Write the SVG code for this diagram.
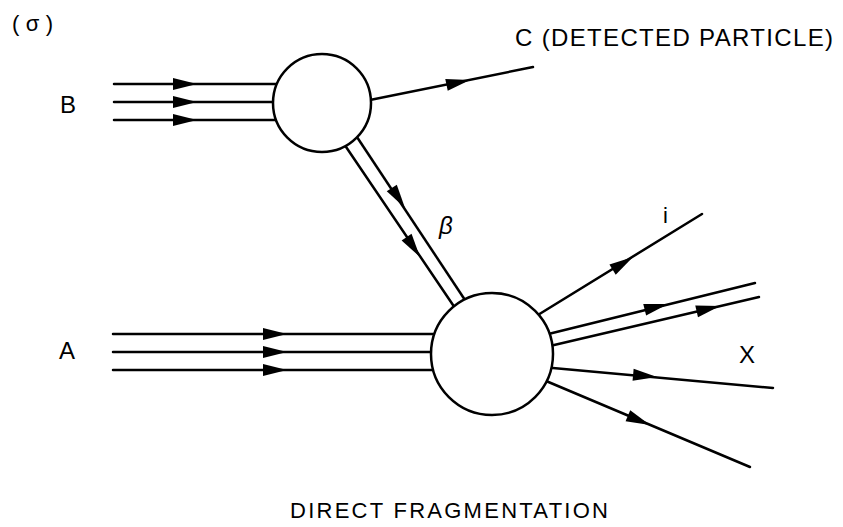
<svg xmlns="http://www.w3.org/2000/svg" xmlns:xlink="http://www.w3.org/1999/xlink" width="843" height="527" viewBox="0 0 843 527">
<style>
.ln{stroke:#000;stroke-width:2.5;fill:none;stroke-linecap:round}
.nd{stroke:#000;stroke-width:2.5;fill:#fff}
.t{font-family:"Liberation Sans","DejaVu Sans",sans-serif;fill:#000}
</style>
<defs>
<path id="ah" d="M0,0 L-24,-6 L-24,6 Z" fill="#000"/>
</defs>
<rect width="843" height="527" fill="#fff"/>
<g id="connectors">
<line class="ln" x1="114" y1="84" x2="300" y2="84"/>
<line class="ln" x1="114" y1="102" x2="300" y2="102"/>
<line class="ln" x1="114" y1="120" x2="300" y2="120"/>
<use xlink:href="#ah" transform="translate(197,84)"/>
<use xlink:href="#ah" transform="translate(197,102)"/>
<use xlink:href="#ah" transform="translate(197,120)"/>
<line class="ln" x1="113" y1="334" x2="460" y2="334"/>
<line class="ln" x1="113" y1="352" x2="460" y2="352"/>
<line class="ln" x1="113" y1="370" x2="460" y2="370"/>
<use xlink:href="#ah" transform="translate(287,334)"/>
<use xlink:href="#ah" transform="translate(287,352)"/>
<use xlink:href="#ah" transform="translate(287,370)"/>
<line class="ln" x1="360" y1="102" x2="533" y2="67"/>
<use xlink:href="#ah" transform="translate(470,80) rotate(-11.85)"/>
<line class="ln" x1="340" y1="138" x2="453" y2="305"/>
<line class="ln" x1="351" y1="128" x2="465" y2="300"/>
<use xlink:href="#ah" transform="translate(405,208) rotate(56.6)"/>
<use xlink:href="#ah" transform="translate(420,257) rotate(56)"/>
<line class="ln" x1="520" y1="326" x2="702" y2="214"/>
<use xlink:href="#ah" transform="translate(633,257) rotate(-31.7)"/>
<line class="ln" x1="520" y1="341" x2="755" y2="283"/>
<use xlink:href="#ah" transform="translate(668,304) rotate(-13.8)"/>
<line class="ln" x1="520" y1="353" x2="759" y2="297"/>
<use xlink:href="#ah" transform="translate(720,306) rotate(-13.1)"/>
<line class="ln" x1="520" y1="365" x2="773" y2="388"/>
<use xlink:href="#ah" transform="translate(657,377) rotate(5.2)"/>
<line class="ln" x1="520" y1="370" x2="750" y2="467"/>
<use xlink:href="#ah" transform="translate(650,425) rotate(22.9)"/>
</g>
<g id="vertex-top"><circle class="nd" cx="322" cy="103" r="49"/></g>
<g id="vertex-bottom"><circle class="nd" cx="492" cy="354" r="61"/></g>
<g id="label-a"><text class="t" x="12" y="31" font-size="22" textLength="41" lengthAdjust="spacing">(σ)</text></g>
<g id="label-B"><text class="t" x="60" y="113" font-size="24">B</text></g>
<g id="label-A"><text class="t" x="59" y="359" font-size="24">A</text></g>
<g id="label-C"><text class="t" x="515" y="46" font-size="24" textLength="318" lengthAdjust="spacing">C (DETECTED PARTICLE)</text></g>
<g id="label-beta"><text class="t" x="439" y="234" font-size="24" font-style="italic">β</text></g>
<g id="label-i"><text class="t" x="663" y="223" font-size="22">i</text></g>
<g id="label-X"><text class="t" x="739" y="363" font-size="24">X</text></g>
<g id="caption"><text class="t" x="290" y="518" font-size="22" textLength="318" lengthAdjust="spacing">DIRECT FRAGMENTATION</text></g>
</svg>
